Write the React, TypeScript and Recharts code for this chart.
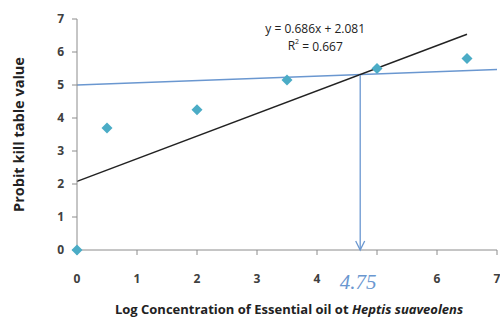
import React from 'react';
import { ScatterChart, Scatter, XAxis, YAxis, ReferenceLine, ReferenceDot } from 'recharts';

// observed points
const logConc = [0, 0.5, 2, 3.5, 5, 6.5];
const probit = [0, 3.7, 4.25, 5.15, 5.5, 5.8];

// fitted trend line endpoints
const trendX = [0, 6.5];
const trendY = [2.081, 6.54];

// the light blue "probit 5" line
const refX = [0, 7];
const refY = [5.0, 5.47];

// LC50 read-off
const lcX = 4.72;
const lcTop = 5.3;
const lcLabel = '4.75';

const xTicks = [0, 1, 2, 3, 4, 5, 6, 7];
const yTicks = [0, 1, 2, 3, 4, 5, 6, 7];

const equation = 'y = 0.686x + 2.081';
const rSquared = '0.667';

const points = logConc.map((x, i) => ({ x, y: probit[i] }));

const BLUE = '#6a97d0';
const TEAL = '#4bacc6';
const AXIS = '#8c8c8c';
const FONT = '"Open Sans", "Liberation Sans", sans-serif';

const Diamond = (props: any) => {
  const { cx, cy } = props;
  const s = 5.5;
  return <polygon points={`${cx},${cy - s} ${cx + s},${cy} ${cx},${cy + s} ${cx - s},${cy}`} fill={TEAL} />;
};

const ArrowHead = (props: any) => {
  const { cx, cy } = props;
  return (
    <g>
      <path d={`M${cx - 4.5},${cy - 9} L${cx},${cy} L${cx + 4.5},${cy - 9}`} fill="none" stroke={BLUE} strokeWidth={1.3} />
      <text x={cx - 2} y={cy + 39} textAnchor="middle" fill={BLUE} fontSize={21} fontStyle="italic"
        fontFamily='"Liberation Serif", "DejaVu Serif", serif'>{lcLabel}</text>
    </g>
  );
};

const tickStyle = { fill: '#404040', fontSize: 12, fontWeight: 700, fontFamily: FONT };

const App = () => {
  return (
    <div style={{ position: 'absolute', left: 0, top: 0, width: 500, height: 317, background: '#fff' }}>
      <ScatterChart width={500} height={317} margin={{ top: 19, right: 3, bottom: 37, left: 17 }}>
        <XAxis
          type="number"
          dataKey="x"
          domain={[0, 7]}
          ticks={xTicks}
          stroke={AXIS}
          tickSize={5}
          tickMargin={19}
          tick={tickStyle}
          tickFormatter={(v: number) => (v === 5 ? '' : String(v))}
          height={30}
          label={{
            position: 'bottom',
            content: () => (
              <text x={289} y={314} textAnchor="middle" fill="#222"
                fontSize={13} fontWeight={700} fontFamily={FONT}>
                Log Concentration of Essential oil ot <tspan fontStyle="italic">Heptis suaveolens</tspan>
              </text>
            ),
          }}
        />
        <YAxis
          type="number"
          dataKey="y"
          domain={[0, 7]}
          ticks={yTicks}
          stroke={AXIS}
          tickSize={5}
          tickMargin={8}
          tick={tickStyle}
          width={60}
          label={{
            position: 'left',
            content: ({ viewBox }: any) => {
              const x = 18;
              const y = viewBox.y + viewBox.height / 2;
              return (
                <text x={x} y={y} transform={`rotate(-90 ${x} ${y})`} textAnchor="middle" dominantBaseline="central"
                  fill="#222" fontSize={14.5} fontWeight={700} fontFamily={FONT}>
                  Probit kill table value
                </text>
              );
            },
          }}
        />
        <ReferenceLine
          segment={[{ x: refX[0], y: refY[0] }, { x: refX[1], y: refY[1] }]}
          stroke={BLUE}
          strokeWidth={1.3}
          ifOverflow="visible"
        />
        <ReferenceLine
          segment={[{ x: trendX[0], y: trendY[0] }, { x: trendX[1], y: trendY[1] }]}
          stroke="#222"
          strokeWidth={1.5}
        />
        <ReferenceLine
          segment={[{ x: lcX, y: lcTop }, { x: lcX, y: 0 }]}
          stroke={BLUE}
          strokeWidth={1.3}
        />
        <ReferenceDot x={lcX} y={0} shape={ArrowHead} ifOverflow="visible" />
        <ReferenceDot
          x={3.97}
          y={6.7}
          r={0}
          ifOverflow="visible"
          label={{
            position: 'center',
            content: ({ viewBox }: any) => {
              const cx = viewBox.x + (viewBox.width || 0) / 2;
              const cy = viewBox.y + (viewBox.height || 0) / 2;
              return (
                <g fontFamily={FONT} fontSize={12} fill="#222">
                  <text x={cx} y={cy} textAnchor="middle" dominantBaseline="central">{equation}</text>
                  <text x={cx} y={cy + 17} textAnchor="middle" dominantBaseline="central">
                    R<tspan fontSize={7} dy={-5}>2</tspan><tspan dy={5}> = {rSquared}</tspan>
                  </text>
                </g>
              );
            },
          }}
        />
        <Scatter data={points} shape={Diamond} isAnimationActive={false} />
      </ScatterChart>
    </div>
  );
};

export default App;
